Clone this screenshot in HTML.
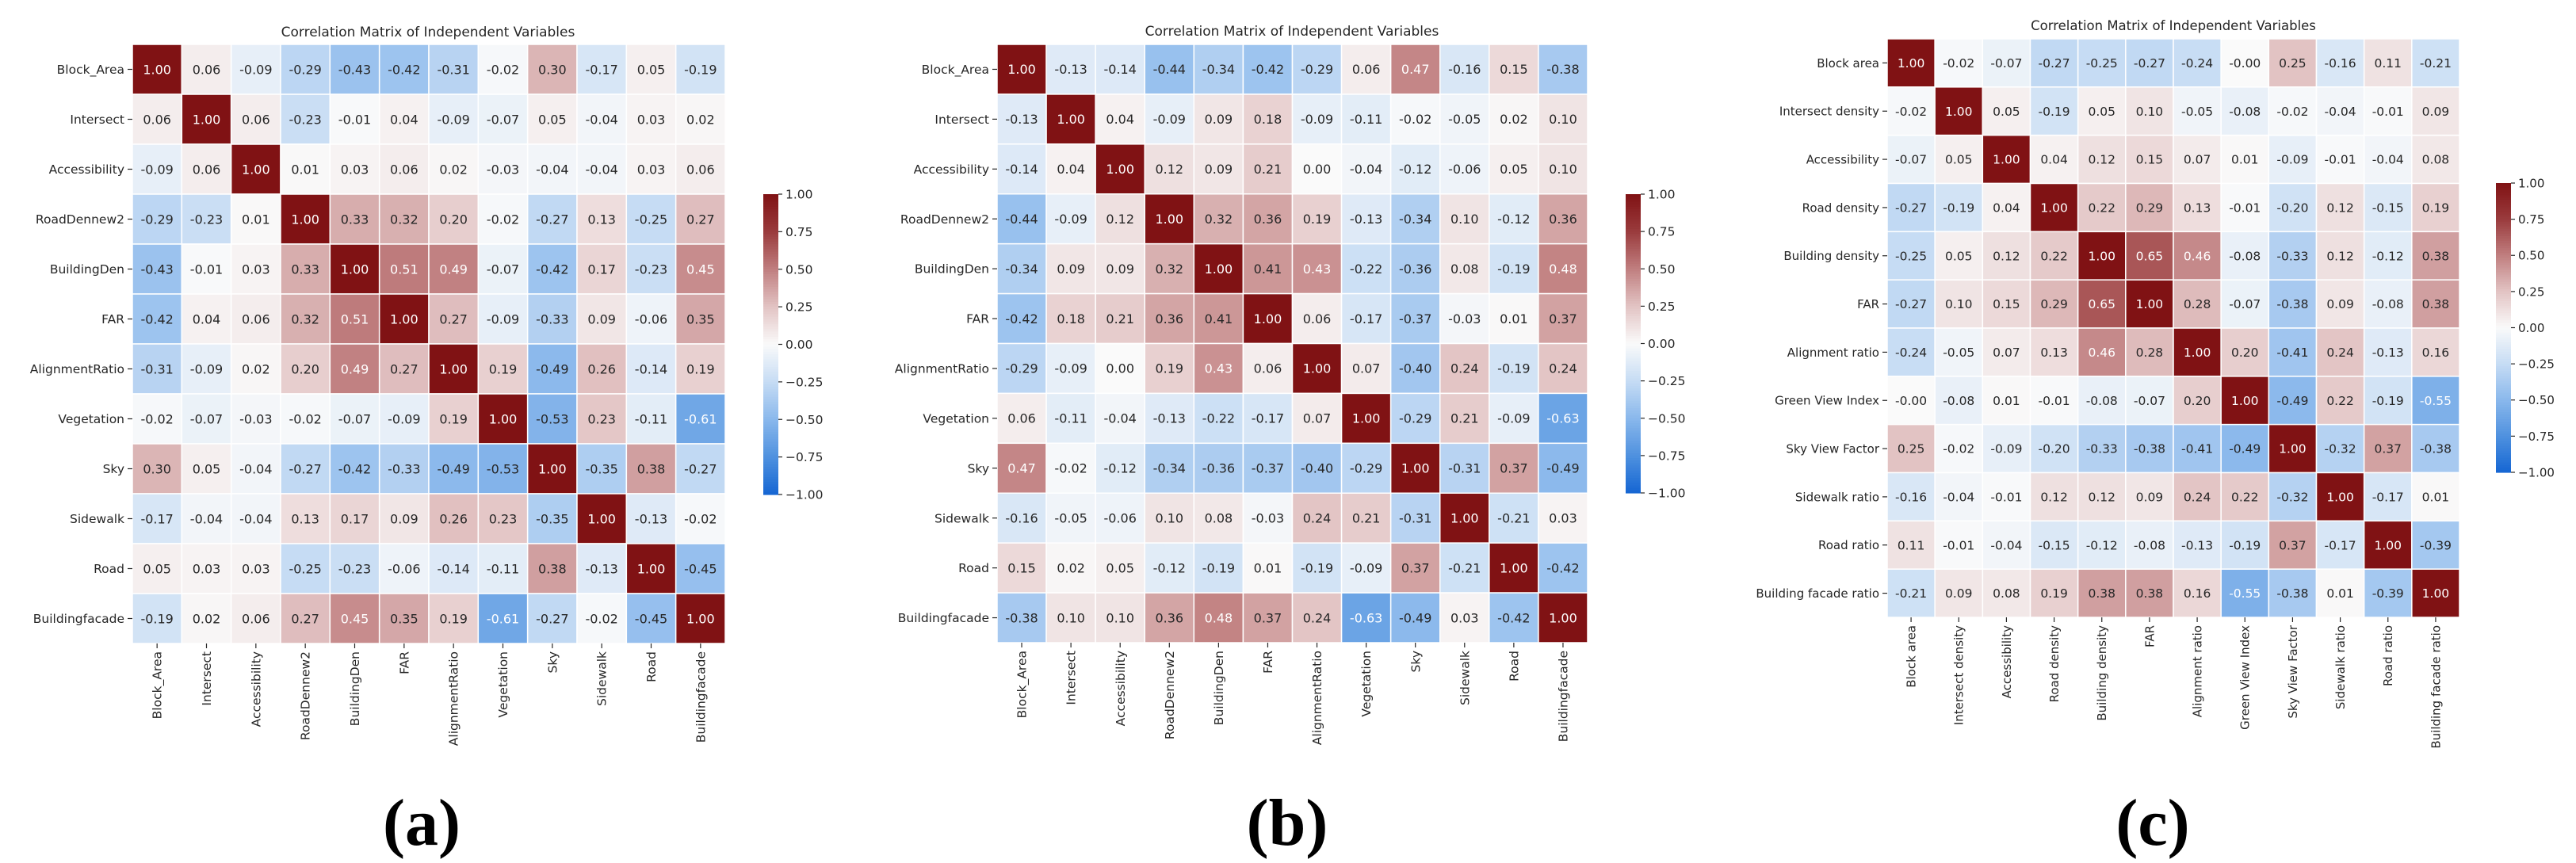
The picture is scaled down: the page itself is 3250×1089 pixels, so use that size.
<!DOCTYPE html>
<html><head><meta charset="utf-8">
<style>
html,body{margin:0;padding:0;background:#fff;}
svg{display:block;font-family:"DejaVu Sans","Liberation Sans",sans-serif;}
</style></head>
<body>
<svg id="root" width="3250" height="1089" viewBox="0 0 3250 1089" xmlns="http://www.w3.org/2000/svg"></svg>
<script>
const labelsA = ["Block_Area","Intersect","Accessibility","RoadDennew2","BuildingDen","FAR","AlignmentRatio","Vegetation","Sky","Sidewalk","Road","Buildingfacade"];
const valuesA = [
[1.00,0.06,-0.09,-0.29,-0.43,-0.42,-0.31,-0.02,0.30,-0.17,0.05,-0.19],
[0.06,1.00,0.06,-0.23,-0.01,0.04,-0.09,-0.07,0.05,-0.04,0.03,0.02],
[-0.09,0.06,1.00,0.01,0.03,0.06,0.02,-0.03,-0.04,-0.04,0.03,0.06],
[-0.29,-0.23,0.01,1.00,0.33,0.32,0.20,-0.02,-0.27,0.13,-0.25,0.27],
[-0.43,-0.01,0.03,0.33,1.00,0.51,0.49,-0.07,-0.42,0.17,-0.23,0.45],
[-0.42,0.04,0.06,0.32,0.51,1.00,0.27,-0.09,-0.33,0.09,-0.06,0.35],
[-0.31,-0.09,0.02,0.20,0.49,0.27,1.00,0.19,-0.49,0.26,-0.14,0.19],
[-0.02,-0.07,-0.03,-0.02,-0.07,-0.09,0.19,1.00,-0.53,0.23,-0.11,-0.61],
[0.30,0.05,-0.04,-0.27,-0.42,-0.33,-0.49,-0.53,1.00,-0.35,0.38,-0.27],
[-0.17,-0.04,-0.04,0.13,0.17,0.09,0.26,0.23,-0.35,1.00,-0.13,-0.02],
[0.05,0.03,0.03,-0.25,-0.23,-0.06,-0.14,-0.11,0.38,-0.13,1.00,-0.45],
[-0.19,0.02,0.06,0.27,0.45,0.35,0.19,-0.61,-0.27,-0.02,-0.45,1.00]];
const labelsB = labelsA.slice();
const valuesB = [
[1.00,-0.13,-0.14,-0.44,-0.34,-0.42,-0.29,0.06,0.47,-0.16,0.15,-0.38],
[-0.13,1.00,0.04,-0.09,0.09,0.18,-0.09,-0.11,-0.02,-0.05,0.02,0.10],
[-0.14,0.04,1.00,0.12,0.09,0.21,0.00,-0.04,-0.12,-0.06,0.05,0.10],
[-0.44,-0.09,0.12,1.00,0.32,0.36,0.19,-0.13,-0.34,0.10,-0.12,0.36],
[-0.34,0.09,0.09,0.32,1.00,0.41,0.43,-0.22,-0.36,0.08,-0.19,0.48],
[-0.42,0.18,0.21,0.36,0.41,1.00,0.06,-0.17,-0.37,-0.03,0.01,0.37],
[-0.29,-0.09,0.00,0.19,0.43,0.06,1.00,0.07,-0.40,0.24,-0.19,0.24],
[0.06,-0.11,-0.04,-0.13,-0.22,-0.17,0.07,1.00,-0.29,0.21,-0.09,-0.63],
[0.47,-0.02,-0.12,-0.34,-0.36,-0.37,-0.40,-0.29,1.00,-0.31,0.37,-0.49],
[-0.16,-0.05,-0.06,0.10,0.08,-0.03,0.24,0.21,-0.31,1.00,-0.21,0.03],
[0.15,0.02,0.05,-0.12,-0.19,0.01,-0.19,-0.09,0.37,-0.21,1.00,-0.42],
[-0.38,0.10,0.10,0.36,0.48,0.37,0.24,-0.63,-0.49,0.03,-0.42,1.00]];
const labelsC = ["Block area","Intersect density","Accessibility","Road density","Building density","FAR","Alignment ratio","Green View Index","Sky View Factor","Sidewalk ratio","Road ratio","Building facade ratio"];
const valuesC = [
[1.00,-0.02,-0.07,-0.27,-0.25,-0.27,-0.24,-0.001,0.25,-0.16,0.11,-0.21],
[-0.02,1.00,0.05,-0.19,0.05,0.10,-0.05,-0.08,-0.02,-0.04,-0.01,0.09],
[-0.07,0.05,1.00,0.04,0.12,0.15,0.07,0.01,-0.09,-0.01,-0.04,0.08],
[-0.27,-0.19,0.04,1.00,0.22,0.29,0.13,-0.01,-0.20,0.12,-0.15,0.19],
[-0.25,0.05,0.12,0.22,1.00,0.65,0.46,-0.08,-0.33,0.12,-0.12,0.38],
[-0.27,0.10,0.15,0.29,0.65,1.00,0.28,-0.07,-0.38,0.09,-0.08,0.38],
[-0.24,-0.05,0.07,0.13,0.46,0.28,1.00,0.20,-0.41,0.24,-0.13,0.16],
[-0.001,-0.08,0.01,-0.01,-0.08,-0.07,0.20,1.00,-0.49,0.22,-0.19,-0.55],
[0.25,-0.02,-0.09,-0.20,-0.33,-0.38,-0.41,-0.49,1.00,-0.32,0.37,-0.38],
[-0.16,-0.04,-0.01,0.12,0.12,0.09,0.24,0.22,-0.32,1.00,-0.17,0.01],
[0.11,-0.01,-0.04,-0.15,-0.12,-0.08,-0.13,-0.19,0.37,-0.17,1.00,-0.39],
[-0.21,0.09,0.08,0.19,0.38,0.38,0.16,-0.55,-0.38,0.01,-0.39,1.00]];
const colorbarTicks = [1.00,0.75,0.50,0.25,0.00,-0.25,-0.50,-0.75,-1.00];
const titleText = "Correlation Matrix of Independent Variables";

const NS = "http://www.w3.org/2000/svg";
const root = document.getElementById('root');
const stops = [[-1,[21,102,211]],[-0.75,[79,145,223]],[-0.5,[138,184,236]],[-0.25,[198,220,244]],[0,[250,250,250]],[0.25,[226,195,195]],[0.5,[192,126,127]],[0.75,[154,59,61]],[1,[128,18,20]]];
function color(v){
  v=Math.max(-1,Math.min(1,v));
  for(let i=0;i<stops.length-1;i++){
    const a=stops[i],b=stops[i+1];
    if(v<=b[0]){const t=(v-a[0])/(b[0]-a[0]);
      const c=a[1].map((x,k)=>Math.round(x+(b[1][k]-x)*t));
      return `rgb(${c[0]},${c[1]},${c[2]})`;}
  }
  return 'rgb(128,18,20)';
}
function mk(tag,attrs,parent){const e=document.createElementNS(NS,tag);for(const k in attrs)e.setAttribute(k,attrs[k]);(parent||root).appendChild(e);return e;}
function fmt(v){return v.toFixed(2);}

function drawHeatmap(p, labels, values){
  const g=mk('g',{});
  
  
  const n=labels.length, cw=(p.x1-p.x0)/n, ch=(p.y1-p.y0)/n;
  const xs=i=>p.x0+i*cw, ys=j=>p.y0+j*ch;
  const t=mk('text',{x:p.tx,y:p.ty,'text-anchor':'middle','font-size':p.tfs,fill:'#262626'},g);
  t.textContent=titleText;
  
  
  for(let r=0;r<n;r++)for(let c=0;c<n;c++){
    const v=values[r][c];
    const rect=mk('rect',{x:xs(c),y:ys(r),width:cw,height:ch,fill:color(v),stroke:'#fff','stroke-width':1.5},g);
    
    
    const light=(v>=0.425||v<=-0.545);
    const tx=mk('text',{x:xs(c)+cw/2,y:ys(r)+ch/2+p.fs*0.36,'text-anchor':'middle','font-size':p.fs,fill:light?'#ffffff':'#262626'},g);
    tx.textContent=fmt(v);
    
    
  }
  for(let i=0;i<n;i++){
    const yc=ys(i)+ch/2;
    mk('line',{x1:p.x0-6,x2:p.x0,y1:yc,y2:yc,stroke:'#262626','stroke-width':1.2},g);
    const yl=mk('text',{x:p.x0-10,y:yc+p.lfs*0.36,'text-anchor':'end','font-size':p.lfs,fill:'#262626'},g);
    yl.textContent=labels[i];
    
    
    const xc=xs(i)+cw/2;
    mk('line',{x1:xc,x2:xc,y1:p.y1,y2:p.y1+6,stroke:'#262626','stroke-width':1.2},g);
    const xl=mk('text',{x:0,y:0,'text-anchor':'end','font-size':p.lfs,fill:'#262626',transform:`translate(${xc+p.lfs*0.36},${p.y1+10}) rotate(-90)`},g);
    xl.textContent=labels[i];
    
    
  }
  const cbH=p.cy1-p.cy0, steps=120;
  for(let k=0;k<steps;k++){
    const v=1-2*(k+0.5)/steps;
    mk('rect',{x:p.cx0,y:p.cy0+k*cbH/steps,width:p.cx1-p.cx0,height:cbH/steps+0.6,fill:color(v)},g);
  }
  const cbv=v=>p.cy0+(1-v)/2*cbH;
  colorbarTicks.forEach(v=>{
    const y=cbv(v);
    mk('line',{x1:p.cx1,x2:p.cx1+5,y1:y,y2:y,stroke:'#262626','stroke-width':1.2},g);
    const l=mk('text',{x:p.cx1+9,y:y+p.lfs*0.36,'font-size':p.lfs,fill:'#262626'},g);
    l.textContent=(v<0?'\u2212':'')+Math.abs(v).toFixed(2);
    
    
  });
  const cap=mk('text',{x:p.px,y:1066,'text-anchor':'middle','font-size':84,'font-weight':'bold',fill:'#000','font-family':'"Liberation Serif",serif'},g);
  cap.textContent=p.caption;
  
  
}
drawHeatmap({id:'a',x0:167,x1:915,y0:56,y1:812,cx0:963,cx1:982,cy0:245,cy1:624,tx:540,ty:46,tfs:17,fs:16,lfs:15.5,px:532,caption:'(a)'},labelsA,valuesA);
drawHeatmap({id:'b',x0:1258,x1:2003,y0:56,y1:811,cx0:2051,cx1:2070,cy0:245,cy1:622,tx:1630,ty:45,tfs:17,fs:16,lfs:15.5,px:1624,caption:'(b)'},labelsB,valuesB);
drawHeatmap({id:'c',x0:2381,x1:3103,y0:49,y1:779,cx0:3149,cx1:3168,cy0:231,cy1:596,tx:2742,ty:38,tfs:16.5,fs:15.5,lfs:15,px:2716,caption:'(c)'},labelsC,valuesC);
</script>
</body></html>
